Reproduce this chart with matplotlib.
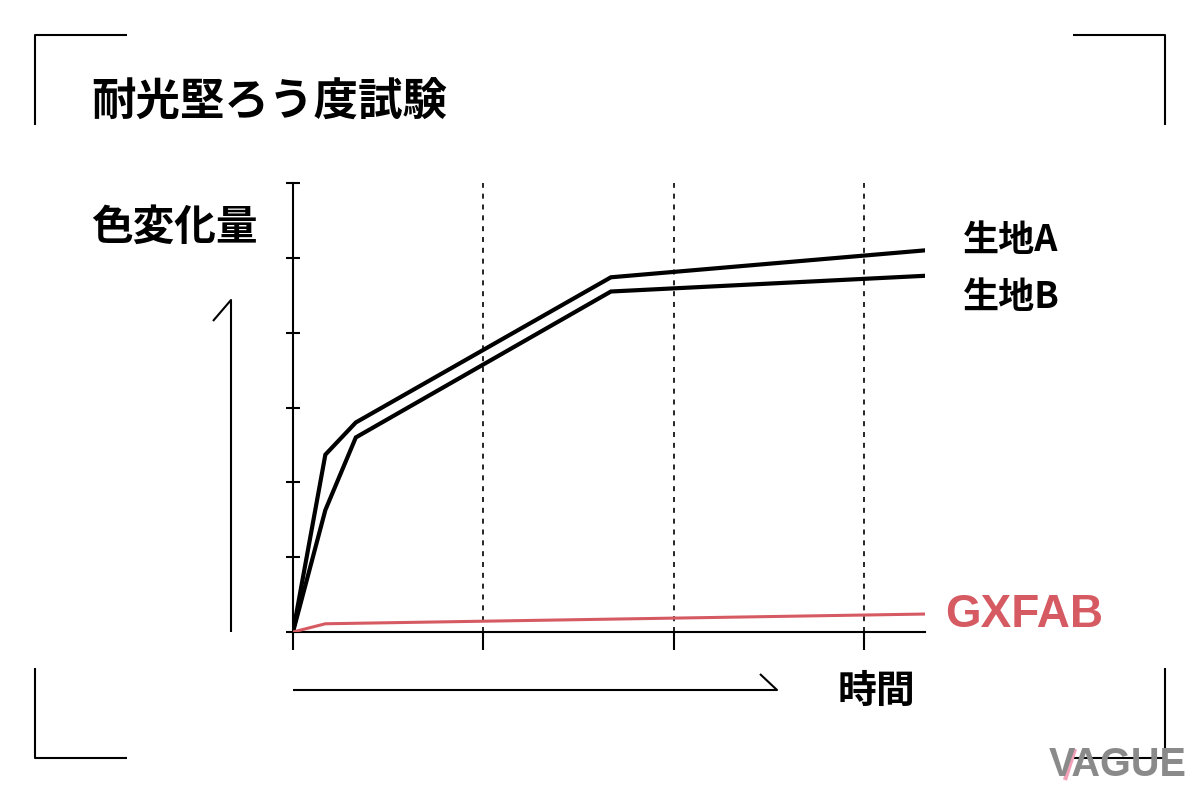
import matplotlib
matplotlib.use("Agg")
import matplotlib.pyplot as plt
from matplotlib.lines import Line2D

plt.rcParams['font.family'] = ['Noto Sans CJK JP', 'DejaVu Sans']

W, H = 1200, 794

# (x: time units between dotted lines, y: tick units)
fabric_a_x = [0, 0.17, 0.33, 1.67, 3.32]
fabric_a_y = [0, 2.37, 2.80, 4.74, 5.10]
fabric_b_x = [0, 0.17, 0.33, 1.67, 3.32]
fabric_b_y = [0, 1.63, 2.60, 4.55, 4.76]
gxfab_x = [0, 0.17, 3.32]
gxfab_y = [0, 0.11, 0.24]

grid_x = [1, 2, 3]
title = "耐光堅ろう度試験"
ylabel = "色変化量"
xlabel = "時間"
labels = ["生地A", "生地B", "GXFAB"]

RED = "#d65a62"


def fx(x):
    return x / W


def fy(y):
    return 1 - y / H


def seg(fig, xs, ys, lw=1.5, color="black"):
    fig.add_artist(Line2D([fx(x) for x in xs], [fy(y) for y in ys],
                          transform=fig.transFigure, lw=lw, color=color,
                          solid_capstyle="butt"))


fig = plt.figure(figsize=(12, 7.94), dpi=100)
ax = fig.add_axes([fx(293), fy(632), fx(925) - fx(293), (632 - 183) / H])

for gx in grid_x:
    ax.axvline(gx, color="black", lw=1.2, ls=(0, (3, 3.5)), zorder=1)

ax.plot(fabric_a_x, fabric_a_y, color="black", lw=3.0, solid_joinstyle="miter", zorder=3)
ax.plot(fabric_b_x, fabric_b_y, color="black", lw=3.0, solid_joinstyle="miter", zorder=3)
ax.plot(gxfab_x, gxfab_y, color=RED, lw=2.2, zorder=4)

ax.set_xlim(0, 3.32)
ax.set_ylim(0, 6)
ax.set_xticks([0] + grid_x)
ax.set_yticks(range(7))
ax.set_xticklabels([])
ax.set_yticklabels([])
ax.tick_params(axis="y", direction="inout", length=10, width=1.5)
ax.tick_params(axis="x", direction="out", length=13, width=1.5)
for s in ["top", "right"]:
    ax.spines[s].set_visible(False)
for s in ["left", "bottom"]:
    ax.spines[s].set_linewidth(1.5)
ax.patch.set_alpha(0)

# corner brackets
seg(fig, [35, 35, 127], [125, 35, 35])
seg(fig, [1073, 1165, 1165], [35, 35, 125])
seg(fig, [35, 35, 127], [668, 758, 758])
seg(fig, [1073, 1165, 1165], [758, 758, 668])

# axis arrows
seg(fig, [231, 231, 213], [632, 300, 321])
seg(fig, [293, 777, 760], [690, 690, 674])

fig.text(fx(91), fy(103), title, fontsize=32, fontweight="bold", va="center", ha="left")
fig.text(fx(91), fy(228), ylabel, fontsize=30, fontweight="bold", va="center", ha="left")
fig.text(fx(838), fy(691), xlabel, fontsize=28, fontweight="bold", va="center", ha="left")
fig.text(fx(963), fy(241), labels[0], fontsize=26, fontweight="bold", va="center", ha="left")
fig.text(fx(963), fy(297), labels[1], fontsize=26, fontweight="bold", va="center", ha="left")
fig.text(fx(945), fy(615), labels[2], fontsize=33, fontweight="bold", va="center", ha="left",
         color=RED, family=["Liberation Sans", "DejaVu Sans"])

# logo
fig.text(fx(1187), fy(765), "VAGUE", fontsize=28.5, fontweight="bold", va="center", ha="right",
         color="#8a8a8a", family=["Liberation Sans", "DejaVu Sans"])
seg(fig, [1065, 1075], [780, 749], lw=3, color="#f2a0b8")

fig.savefig("out.png", dpi=100)
